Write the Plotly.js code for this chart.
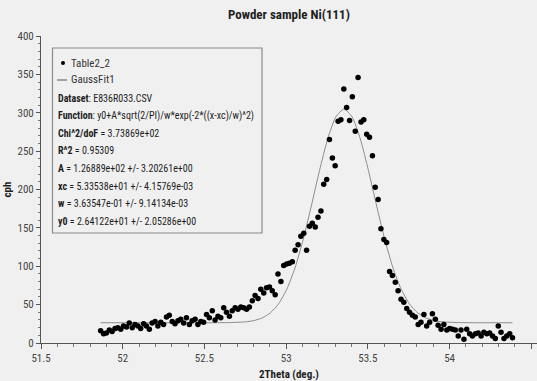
<!DOCTYPE html>
<html>
<head>
<meta charset="utf-8">
<script src="https://cdn.plot.ly/plotly-3.0.1.min.js"></script>
<style>html,body{margin:0;padding:0;background:#f0f0f0;}#chart{width:537px;height:381px;}</style>
</head>
<body>
<div id="chart"></div>
<script>
// Measured data (Table2_2)
const dataX = [51.865,51.883,51.900,51.918,51.935,51.953,51.970,51.988,52.005,52.023,
52.040,52.058,52.075,52.093,52.110,52.128,52.145,52.163,52.180,52.198,
52.215,52.233,52.250,52.268,52.285,52.303,52.320,52.338,52.355,52.373,
52.390,52.408,52.425,52.443,52.460,52.478,52.495,52.513,52.530,52.548,
52.565,52.583,52.600,52.618,52.635,52.653,52.670,52.688,52.705,52.723,
52.740,52.758,52.775,52.793,52.810,52.828,52.845,52.863,52.880,52.898,
52.915,52.933,52.950,52.968,52.985,53.003,53.020,53.038,53.055,53.073,
53.090,53.108,53.125,53.143,53.160,53.178,53.195,53.213,53.230,53.248,
53.265,53.283,53.300,53.318,53.335,53.353,53.370,53.388,53.405,53.423,
53.440,53.458,53.475,53.493,53.510,53.528,53.545,53.563,53.580,53.598,
53.615,53.633,53.650,53.668,53.685,53.703,53.720,53.738,53.755,53.773,
53.790,53.808,53.825,53.843,53.860,53.878,53.895,53.913,53.930,53.948,
53.965,53.983,54.000,54.018,54.035,54.053,54.070,54.088,54.105,54.123,
54.140,54.158,54.175,54.193,54.210,54.228,54.245,54.263,54.280,54.298,
54.315,54.333,54.350,54.368,54.385];
const dataY = [16,12,13,17,15,19,20,18,22,21,
26,20,24,22,19,25,22,18,26,28,
22,27,24,34,36,28,25,29,31,26,
33,24,29,31,24,28,27,37,33,42,
30,35,33,46,40,35,42,46,44,47,
46,44,47,55,62,58,70,65,72,73,
68,63,90,80,101,103,104,106,121,128,
139,143,121,152,156,151,164,172,207,213,
265,241,231,289,291,331,307,290,321,276,
346,288,291,272,268,244,203,187,149,135,
131,93,88,79,68,57,53,45,40,36,
34,24,27,37,22,27,38,31,23,18,
24,17,19,18,17,9,17,5,18,12,
9,12,13,9,14,12,13,9,6,22,
14,6,9,12,7];
// GaussFit1 curve
const fitX = [51.865,52.554,52.654,52.754,52.804,52.854,52.904,52.954,53.004,53.054,53.104,
53.154,53.204,53.254,53.304,53.354,53.404,53.454,53.504,53.554,53.604,53.654,
53.704,53.754,53.804,53.854,53.904,53.954,54.054,54.154,54.385];
const fitY = [26.4,26.4,26.6,27.6,29.3,32.7,39.4,51.1,70.0,97.7,134.6,
178.4,224.5,265.8,294.5,304.9,294.5,265.8,224.5,178.4,134.6,97.7,
70.0,51.1,39.4,32.7,29.3,27.6,26.6,26.4,26.4];
const xTicks = [51.5,52,52.5,53,53.5,54,54.5];
const xTickText = ['51.5','52','52.5','53','53.5','54','54.5'];
const yTicks = [0,50,100,150,200,250,300,350,400];

const legendLines = [
  '<b>Dataset</b>: E836R033.CSV',
  '<b>Function</b>: y0+A*sqrt(2/PI)/w*exp(-2*((x-xc)/w)^2)',
  '<b>Chi^2/doF</b> = 3.73869e+02',
  '<b>R^2</b> = 0.95309',
  '<b>A</b> = 1.26889e+02 +/- 3.20261e+00',
  '<b>xc</b> = 5.33538e+01 +/- 4.15769e-03',
  '<b>w</b> = 3.63547e-01 +/- 9.14134e-03',
  '<b>y0</b> = 2.64122e+01 +/- 2.05286e+00'
];

const FONT = "'Roboto Condensed', 'Liberation Sans Narrow', sans-serif";
const L = 41, T = 36, PW = 496, PH = 307;
const px = v => (v - L) / PW;
const py = v => (T + PH - v) / PH;

const annotations = [];
const lineYs = [98,116,133,150,168,186,203,221];
legendLines.forEach((t, i) => {
  annotations.push({xref:'paper', yref:'paper', x: px(56), y: py(lineYs[i]), xanchor:'left', yanchor:'middle',
    text: t, showarrow:false, font:{family:FONT, size:10, color:'#1e1e1e'}});
});
annotations.push({xref:'paper', yref:'paper', x: px(69), y: py(63), xanchor:'left', yanchor:'middle',
  text:'Table2_2', showarrow:false, font:{family:FONT, size:11, color:'#333'}});
annotations.push({xref:'paper', yref:'paper', x: px(69), y: py(80), xanchor:'left', yanchor:'middle',
  text:'GaussFit1', showarrow:false, font:{family:FONT, size:11, color:'#333'}});

const shapes = [
  {type:'rect', xref:'paper', yref:'paper', x0: px(52.5), x1: px(262), y0: py(233), y1: py(48),
   line:{color:'#8a8a8a', width:1.2}, fillcolor:'rgba(0,0,0,0)'},
  {type:'line', xref:'paper', yref:'paper', x0: px(57), x1: px(67), y0: py(80), y1: py(80),
   line:{color:'#555', width:1}},
  {type:'circle', xref:'paper', yref:'paper', x0: px(61), x1: px(65), y0: py(65), y1: py(61),
   line:{color:'#000', width:0}, fillcolor:'#000'}
];

const traces = [
  {x: fitX, y: fitY, type:'scatter', mode:'lines', name:'GaussFit1',
   line:{color:'#8c8c8c', width:1, shape:'spline', smoothing:0.6}, hoverinfo:'skip'},
  {x: dataX, y: dataY, type:'scatter', mode:'markers', name:'Table2_2',
   marker:{color:'#000', size:5.5, line:{width:0}}}
];

const layout = {
  width:537, height:381,
  margin:{l:L, r:0, t:T, b:381-T-PH, pad:0},
  paper_bgcolor:'#f0f0f0', plot_bgcolor:'#f0f0f0',
  showlegend:false,
  font:{family:FONT, size:11, color:'#333'},
  title:{text:'<b>Powder sample Ni(111)</b>', x:0.538, xanchor:'center', y:0.962, yanchor:'middle',
    font:{family:FONT, size:13, color:'#1e1e1e'}},
  xaxis:{range:[51.5, 54.535], tickvals:xTicks, ticktext:xTickText, ticks:'outside', ticklen:5, tickcolor:'#555',
    showgrid:false, zeroline:false, showline:true, linecolor:'#555', linewidth:1,
    minor:{dtick:0.1, ticks:'outside', ticklen:3, tickcolor:'#777', showgrid:false},
    tickfont:{family:FONT, size:11, color:'#444'},
    title:{text:'<b>2Theta (deg.)</b>', standoff:6, font:{family:FONT, size:11, color:'#1e1e1e'}}},
  yaxis:{range:[0,400], tickvals:yTicks, ticks:'outside', ticklen:4, tickcolor:'#555',
    showgrid:false, zeroline:false, showline:true, linecolor:'#555', linewidth:1,
    minor:{dtick:10, ticks:'outside', ticklen:2, tickcolor:'#777', showgrid:false},
    tickfont:{family:FONT, size:11, color:'#444'},
    title:{text:'<b>cph</b>', standoff:3, font:{family:FONT, size:11, color:'#1e1e1e'}}},
  annotations, shapes
};

Plotly.newPlot('chart', traces, layout, {displayModeBar:false, staticPlot:true});
</script>
</body>
</html>
